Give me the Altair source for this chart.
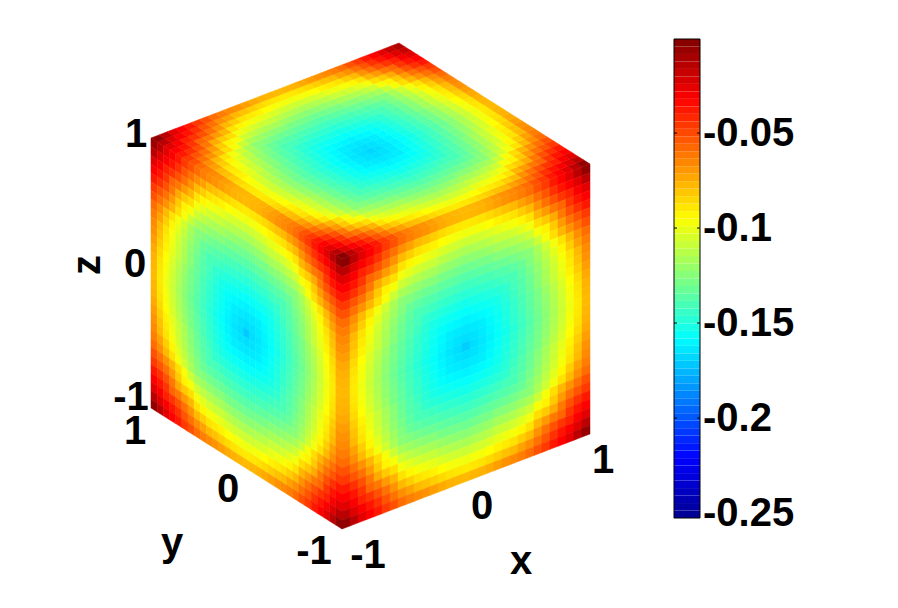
import altair as alt
import pandas as pd

# Values in thousandths (sign dropped). The three faces show
# the same pattern, so they share these rows, outermost row first.
R0 = [5,15,25,32,38,46,52,59,63,66,68,71,74,76,77,78,77,76,74,71,68,66,63,59,52,46,38,32,25,15,5]
R1 = [15,24,31,37,44,53,60,67,72,78,80,83,86,88,89,90,89,88,86,83,80,78,72,67,60,53,44,37,31,24,15]
R2 = [25,31,40,45,52,60,68,78,83,88,90,92,95,97,98,99,98,97,95,92,90,88,83,78,68,60,52,45,40,31,25]
R3 = [32,37,45,57,62,70,77,88,93,97,99,101,104,106,107,108,107,106,104,101,99,97,93,88,77,70,62,57,45,37,32]
R4 = [38,44,52,62,74,82,87,98,102,106,108,109,112,114,115,116,115,114,112,109,108,106,102,98,87,82,74,62,52,44,38]
R5 = [46,53,60,70,82,92,97,107,111,114,116,117,120,122,123,124,123,122,120,117,116,114,111,107,97,92,82,70,60,53,46]
R6 = [52,60,68,77,87,97,108,116,119,122,124,125,128,129,130,131,130,129,128,125,124,122,119,116,108,97,87,77,68,60,52]
R7 = [59,67,78,88,98,107,116,124,126,129,131,132,134,135,136,137,136,135,134,132,131,129,126,124,116,107,98,88,78,67,59]
R8 = [63,72,83,93,102,111,119,126,132,135,137,138,140,141,142,143,142,141,140,138,137,135,132,126,119,111,102,93,83,72,63]
R9 = [66,78,88,97,106,114,122,129,135,140,141,143,145,146,147,148,147,146,145,143,141,140,135,129,122,114,106,97,88,78,66]
R10 = [68,80,90,99,108,116,124,131,137,141,146,148,150,151,152,153,152,151,150,148,146,141,137,131,124,116,108,99,90,80,68]
R11 = [71,83,92,101,109,117,125,132,138,143,148,152,154,155,156,157,156,155,154,152,148,143,138,132,125,117,109,101,92,83,71]
R12 = [74,86,95,104,112,120,128,134,140,145,150,154,157,159,160,161,160,159,157,154,150,145,140,134,128,120,112,104,95,86,74]
R13 = [76,88,97,106,114,122,129,135,141,146,151,155,159,162,163,164,163,162,159,155,151,146,141,135,129,122,114,106,97,88,76]
R14 = [77,89,98,107,115,123,130,136,142,147,152,156,160,163,165,166,165,163,160,156,152,147,142,136,130,123,115,107,98,89,77]
R15 = [78,90,99,108,116,124,131,137,143,148,153,157,161,164,166,168,166,164,161,157,153,148,143,137,131,124,116,108,99,90,78]
face_rows = [R0,R1,R2,R3,R4,R5,R6,R7,R8,R9,R10,R11,R12,R13,R14,R15,
             R14,R13,R12,R11,R10,R9,R8,R7,R6,R5,R4,R3,R2,R1,R0]
# cells that differ from the shared pattern on one face: (row, column, value)
top_cells = [(30,30,13),(29,30,18),(30,29,18),(0,0,3)]
left_cells = [(15,15,171),(0,0,7),(30,30,5)]
right_cells = [(15,15,170),(0,0,3),(30,30,6)]

tick_labels = ["1", "0", "-1", "1", "0", "-1", "-1", "0", "1"]
tick_px = [136, 135, 131, 135, 228, 314, 368, 482, 603]
tick_py = [135, 265, 398, 432, 490, 552, 556, 507, 461]
cbar_ticks = [-0.25, -0.2, -0.15, -0.1, -0.05]
cbar_labels = ["-0.25", "-0.2", "-0.15", "-0.1", "-0.05"]
LO, HI = -0.2526, -0.0005
N_LEVELS = 64
FONT = "Liberation Sans"
FS = 40

# cube geometry in page pixels
O = (342 - 8, 529 - 8)
EX, EY, EZ = (248, -95), (-191, -121), (0, -270)


def proj(a, b, c):
    return (O[0] + a * EX[0] + b * EY[0] + c * EZ[0],
            O[1] + a * EX[1] + b * EY[1] + c * EZ[1])


span = HI - LO
color_scale = alt.Scale(
    domain=[LO, LO + span / 8, LO + 3 * span / 8, LO + 5 * span / 8, LO + 7 * span / 8, HI],
    range=["#00008f", "#0000ff", "#00ffff", "#ffff00", "#ff0000", "#800000"],
    interpolate="rgb",
)
xs = alt.Scale(domain=[0, 880], range=[0, 880], nice=False, zero=False)
ys = alt.Scale(domain=[0, 590], range=[0, 590], nice=False, zero=False)


def face(rows, cells, u, v, origin):
    n = len(rows)
    over = {(r, c): val for r, c, val in cells}
    recs = []
    for r, row in enumerate(rows):
        for c, val in enumerate(row):
            val = over.get((r, c), val)
            p = (origin[0] + (c + .5) / n * u[0] + (r + .5) / n * v[0],
                 origin[1] + (c + .5) / n * u[1] + (r + .5) / n * v[1])
            recs.append({"px": p[0], "py": p[1], "v": -val / 1000})
    a = (u[0] / n / 2, u[1] / n / 2)
    b = (v[0] / n / 2, v[1] / n / 2)
    path = "M{:.3f},{:.3f}L{:.3f},{:.3f}L{:.3f},{:.3f}L{:.3f},{:.3f}Z".format(
        -a[0] - b[0], -a[1] - b[1], a[0] - b[0], a[1] - b[1],
        a[0] + b[0], a[1] + b[1], -a[0] + b[0], -a[1] + b[1])
    return alt.Chart(pd.DataFrame(recs)).mark_point(
        filled=True, opacity=1, strokeWidth=0.5
    ).encode(
        x=alt.X("px:Q", scale=xs, axis=None),
        y=alt.Y("py:Q", scale=ys, axis=None),
        fill=alt.Fill("v:Q", scale=color_scale, legend=None),
        stroke=alt.Stroke("v:Q", scale=color_scale, legend=None),
        shape=alt.value(path),
        size=alt.value(4),
    )


DOWN = (-EZ[0], -EZ[1])
top = face(face_rows, top_cells, EX, EY, proj(0, 0, 1))
left = face(face_rows, left_cells, (-EY[0], -EY[1]), DOWN, proj(0, 1, 1))
right = face(face_rows, right_cells, EX, DOWN, proj(0, 0, 1))

tick_df = pd.DataFrame({"t": tick_labels, "px": [p - 8 for p in tick_px], "py": [p - 8 for p in tick_py]})
ticks = alt.Chart(tick_df).mark_text(font=FONT, fontSize=FS, fontWeight="bold", color="black",
                                     align="center", baseline="middle").encode(
    x=alt.X("px:Q", scale=xs, axis=None), y=alt.Y("py:Q", scale=ys, axis=None), text="t:N")

title_df = pd.DataFrame({"t": ["x", "y"], "px": [521 - 8, 172 - 8], "py": [562 - 8, 544 - 8]})
titles = alt.Chart(title_df).mark_text(font=FONT, fontSize=FS, fontWeight="bold", color="black",
                                       align="center", baseline="middle").encode(
    x=alt.X("px:Q", scale=xs, axis=None), y=alt.Y("py:Q", scale=ys, axis=None), text="t:N")
ztitle = alt.Chart(pd.DataFrame({"t": ["z"], "px": [88 - 8], "py": [265 - 8]})).mark_text(
    font=FONT, fontSize=FS, fontWeight="bold", color="black", align="center", baseline="middle", angle=270
).encode(x=alt.X("px:Q", scale=xs, axis=None), y=alt.Y("py:Q", scale=ys, axis=None), text="t:N")

cube = alt.layer(top, left, right, ticks, titles, ztitle)

# colour bar
BAR_L, BAR_R = 666, 692
cy = alt.Scale(domain=[LO, HI], range=[510, 31], nice=False, zero=False)
step = span / N_LEVELS
bar_df = pd.DataFrame({"lo": [LO + i * step for i in range(N_LEVELS)],
                       "hi": [LO + (i + 1) * step for i in range(N_LEVELS)],
                       "mid": [LO + (i + .5) * step for i in range(N_LEVELS)]})
bar = alt.Chart(bar_df).mark_rect().encode(
    x=alt.value(BAR_L), x2=alt.value(BAR_R),
    y=alt.Y("lo:Q", scale=cy, axis=None),
    y2="hi:Q",
    fill=alt.Fill("mid:Q", scale=color_scale, legend=None),
)
border = alt.Chart(pd.DataFrame({"lo": [LO], "hi": [HI]})).mark_rect(
    fill=None, stroke="black", strokeWidth=1).encode(
    x=alt.value(BAR_L), x2=alt.value(BAR_R),
    y=alt.Y("lo:Q", scale=cy, axis=None), y2="hi:Q")
tick_src = pd.DataFrame({"v": cbar_ticks[1:]})
tl = alt.Chart(tick_src).mark_rule(color="black", strokeWidth=1).encode(
    x=alt.value(BAR_L), x2=alt.value(BAR_L + 3), y=alt.Y("v:Q", scale=cy, axis=None))
tr = alt.Chart(tick_src).mark_rule(color="black", strokeWidth=1).encode(
    x=alt.value(BAR_R - 3), x2=alt.value(BAR_R), y=alt.Y("v:Q", scale=cy, axis=None))
cb_text = alt.Chart(pd.DataFrame({"v": cbar_ticks, "t": cbar_labels})).mark_text(
    font=FONT, fontSize=FS, fontWeight="bold", color="black", align="left", baseline="middle", dy=1
).encode(x=alt.value(BAR_R + 3), y=alt.Y("v:Q", scale=cy, axis=None), text="t:N")
cbar = alt.layer(bar, border, tl, tr, cb_text)

chart = alt.layer(cube, cbar).resolve_scale(y="independent").properties(
    width=880, height=590, padding=0,
    autosize=alt.AutoSizeParams(type="none"),
).configure_view(stroke=None)

chart.save("out.html", embed_options={"renderer": "svg", "actions": False})
